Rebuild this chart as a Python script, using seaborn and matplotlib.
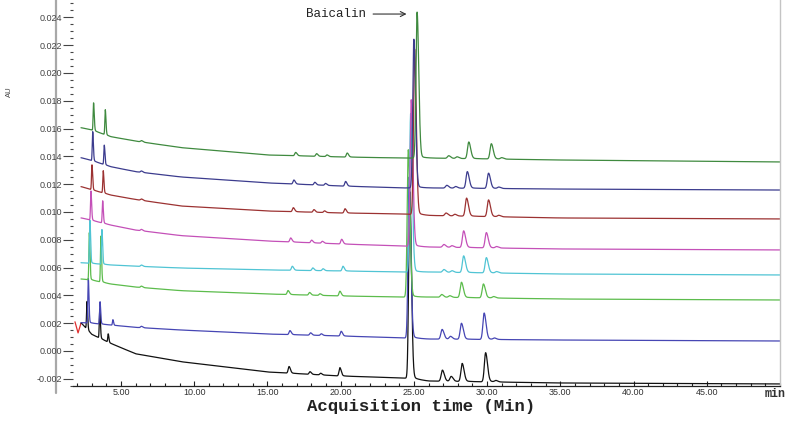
import numpy as np
import pandas as pd
import matplotlib
matplotlib.use("Agg")
import matplotlib.pyplot as plt
import seaborn as sns
from matplotlib.lines import Line2D
from matplotlib.ticker import MultipleLocator, FixedLocator, FormatStrFormatter

# eight overlaid chromatograms, listed bottom to top
samples = ['S1', 'S2', 'S3', 'S4', 'S5', 'S6', 'S7', 'S8']
colors = ['#111111', '#4646b4', '#5cbc4c', '#50c4d4', '#c450b8', '#9c3232', '#3c3c8e', '#3f8a3f']

# baseline knots (min) and baseline level (AU) of each trace
base_t = [2.3, 3.0, 4.3, 6.0, 9.1, 15.0, 20.0, 24.3, 26.0, 35.0, 50.0]
base_S1 = [0.0020, 0.0012, 0.00055, -0.0002, -0.00077, -0.00151, -0.0018, -0.00194, -0.00216, -0.0023, -0.00237]
base_S2 = [0.00204, 0.0020, 0.00187, 0.0017, 0.00151, 0.00122, 0.00108, 0.00094, 0.00086, 0.00079, 0.00072]
base_S3 = [0.00518, 0.0051, 0.00482, 0.0046, 0.00434, 0.0041, 0.00396, 0.00388, 0.00388, 0.00374, 0.00367]
base_S4 = [0.00635, 0.0063, 0.00619, 0.0061, 0.00597, 0.00583, 0.00576, 0.00568, 0.00568, 0.00554, 0.00547]
base_S5 = [0.00957, 0.0094, 0.00906, 0.0087, 0.0083, 0.00791, 0.0077, 0.00755, 0.00748, 0.00734, 0.00727]
base_S6 = [0.01182, 0.0116, 0.01122, 0.0109, 0.01043, 0.01007, 0.00993, 0.00986, 0.00975, 0.00957, 0.0095]
base_S7 = [0.0139, 0.0137, 0.01326, 0.0129, 0.01252, 0.01209, 0.01187, 0.01173, 0.01173, 0.01165, 0.01158]
base_S8 = [0.01606, 0.0159, 0.01542, 0.0151, 0.01463, 0.0141, 0.01396, 0.01388, 0.01388, 0.01374, 0.0136]

# peak retention times (min) and heights above baseline (AU)
peak_t_S1 = [2.68, 3.55, 4.13, 16.48, 17.91, 18.64, 19.95, 24.72, 26.95, 27.55, 28.3, 29.9, 30.6]
peak_h_S1 = [0.0020, 0.0021, 0.0006, 0.00048, 0.00019, 0.00012, 0.0006, 0.01345, 0.0008, 0.00035, 0.0013, 0.0021, 0.0001]
peak_t_S2 = [2.77, 3.57, 4.45, 6.4, 16.54, 17.95, 18.68, 20.04, 24.68, 26.93, 27.5, 28.25, 29.8, 30.5]
peak_h_S2 = [0.0032, 0.0016, 0.0004, 0.0001, 0.00029, 0.00017, 0.00012, 0.00034, 0.0116, 0.0007, 0.0002, 0.00115, 0.0019, 0.0001]
peak_t_S3 = [2.84, 3.63, 6.4, 16.41, 17.88, 18.59, 19.95, 24.62, 26.9, 27.45, 28.25, 29.75, 30.45]
peak_h_S3 = [0.0034, 0.0033, 0.0001, 0.00029, 0.00019, 0.00012, 0.00034, 0.0106, 0.0002, 0.00012, 0.0011, 0.0010, 0.0001]
peak_t_S4 = [2.88, 3.70, 6.4, 16.7, 18.1, 18.8, 20.16, 24.78, 27.05, 27.6, 28.4, 29.95, 30.65]
peak_h_S4 = [0.0031, 0.0025, 0.0001, 0.00029, 0.00019, 0.00014, 0.00034, 0.0114, 0.0002, 0.00012, 0.0012, 0.0011, 0.0001]
peak_t_S5 = [2.95, 3.75, 6.4, 16.59, 18.02, 18.75, 20.07, 24.82, 27.05, 27.6, 28.4, 29.95, 30.65]
peak_h_S5 = [0.0021, 0.0016, 0.0001, 0.00029, 0.00019, 0.00014, 0.00034, 0.01055, 0.0002, 0.00012, 0.0012, 0.0011, 0.0001]
peak_t_S6 = [3.02, 3.79, 6.4, 16.77, 18.18, 18.9, 20.3, 25.05, 27.2, 27.8, 28.6, 30.1, 30.8]
peak_h_S6 = [0.0018, 0.0016, 0.0001, 0.00029, 0.00019, 0.00012, 0.00031, 0.0119, 0.0002, 0.00012, 0.0013, 0.0012, 0.0001]
peak_t_S7 = [3.07, 3.86, 6.4, 16.81, 18.24, 18.97, 20.34, 25.0, 27.25, 27.85, 28.65, 30.1, 30.8]
peak_h_S7 = [0.0021, 0.0014, 0.0001, 0.00029, 0.00019, 0.00014, 0.00034, 0.0107, 0.0002, 0.00012, 0.0012, 0.0011, 0.0001]
peak_t_S8 = [3.13, 3.93, 6.4, 16.93, 18.36, 19.07, 20.45, 25.22, 27.38, 27.95, 28.75, 30.29, 31.0]
peak_h_S8 = [0.0020, 0.0018, 0.0001, 0.00024, 0.00019, 0.00012, 0.00029, 0.0105, 0.00019, 0.00012, 0.0012, 0.0011, 0.0001]

# short red fragment at the very start
red_t = [1.86, 2.07, 2.27]
red_v = [0.0021, 0.0013, 0.0020]

bases = [base_S1, base_S2, base_S3, base_S4, base_S5, base_S6, base_S7, base_S8]
peaks_t = [peak_t_S1, peak_t_S2, peak_t_S3, peak_t_S4, peak_t_S5, peak_t_S6, peak_t_S7, peak_t_S8]
peaks_h = [peak_h_S1, peak_h_S2, peak_h_S3, peak_h_S4, peak_h_S5, peak_h_S6, peak_h_S7, peak_h_S8]


def peak_style(t0):
    # (front sigma, tail fraction) per region of the run
    if t0 < 5:
        return 0.03, 0.05
    if t0 < 22:
        return 0.06, 0.1
    if t0 < 26:
        return 0.075, 0.025
    return 0.085, 0.06


def peak_shape(dt, w, tail):
    # tailing peak: gaussian front, wider back with a short tail
    left = np.exp(-0.5 * (np.minimum(dt, 0) / w) ** 2)
    dp = np.maximum(dt, 0)
    right = (1 - tail) * np.exp(-0.5 * (dp / (1.5 * w)) ** 2) + tail * np.exp(-dp / (4 * w))
    return np.where(dt < 0, left, right)


t = np.arange(2.27, 50.0, 0.004)
frames = []
for name, b, pt, ph in zip(samples, bases, peaks_t, peaks_h):
    v = np.interp(t, base_t, b)
    for t0, h in zip(pt, ph):
        w, tail = peak_style(t0)
        v = v + h * peak_shape(t - t0, w, tail)
    frames.append(pd.DataFrame({'time': t, 'signal': v, 'sample': name}))
frames.append(pd.DataFrame({'time': red_t, 'signal': red_v, 'sample': 'S0'}))
df = pd.concat(frames, ignore_index=True)

sns.set_style("white")
plt.rcParams['font.family'] = ['Liberation Sans', 'DejaVu Sans']

W, H = 800, 422
fig = plt.figure(figsize=(8, 4.22), dpi=100)
ax = fig.add_axes([73 / W, 1 - 386 / H, (780 - 73) / W, 386 / H])

palette = dict(zip(samples, colors))
palette['S0'] = '#e03030'
sns.lineplot(data=df, x='time', y='signal', hue='sample', hue_order=['S0'] + samples,
             palette=palette, estimator=None, sort=False, legend=False,
             linewidth=0.9, ax=ax)

ax.set_xlim(1.725, 50.0)
ax.set_ylim(-0.002518, 0.02525)
ax.set_xlabel('')
ax.set_ylabel('')

ax.xaxis.set_major_locator(FixedLocator([5, 10, 15, 20, 25, 30, 35, 40, 45]))
ax.xaxis.set_minor_locator(MultipleLocator(1))
ax.xaxis.set_major_formatter(FormatStrFormatter('%.2f'))
ax.yaxis.set_major_locator(MultipleLocator(0.002))
ax.yaxis.set_minor_locator(MultipleLocator(0.0005))
ax.yaxis.set_major_formatter(FormatStrFormatter('%.3f'))

ax.tick_params(axis='x', which='both', direction='in', bottom=True, color='#222222',
               labelsize=6.5, labelcolor='#333333', pad=1.5)
ax.tick_params(axis='x', which='major', length=3.5, width=0.8)
ax.tick_params(axis='x', which='minor', length=2.2, width=0.8)
ax.tick_params(axis='y', which='both', direction='out', left=True, color='#444444',
               labelsize=6.5, labelcolor='#444444', pad=0.5)
ax.tick_params(axis='y', which='major', length=7, width=0.8)
ax.tick_params(axis='y', which='minor', length=2.5, width=0.8)

ax.spines['top'].set_visible(False)
ax.spines['left'].set_visible(False)
ax.spines['right'].set_color('#c4c4c4')
ax.spines['right'].set_linewidth(1.0)
ax.spines['bottom'].set_color('#222222')
ax.spines['bottom'].set_linewidth(0.9)

# grey vertical rule behind the y tick labels
fig.add_artist(Line2D([56 / W, 56 / W], [1 - 393 / H, 1.0], color='#a8a8a8',
                      lw=1.6, transform=fig.transFigure, zorder=-1))

ax.annotate('Baicalin', xy=(24.5, 0.02424), xytext=(19.66, 0.02424),
            ha='center', va='center', family='Liberation Mono', fontsize=9,
            color='#222222',
            arrowprops=dict(arrowstyle='->', color='#333333', lw=0.8, shrinkA=3, shrinkB=0))

fig.text(421 / W, 1 - 407 / H, 'Acquisition time (Min)', ha='center', va='center',
         family='Liberation Mono', weight='bold', fontsize=12.5, color='#222222')
fig.text(775 / W, 1 - 394 / H, 'min', ha='center', va='center',
         family='Liberation Mono', weight='bold', fontsize=8.5, color='#333333')
fig.text(9 / W, 1 - 92 / H, 'AU', rotation=90, ha='center', va='center',
         fontsize=5.5, color='#444444')

fig.savefig('out.png', dpi=100)
